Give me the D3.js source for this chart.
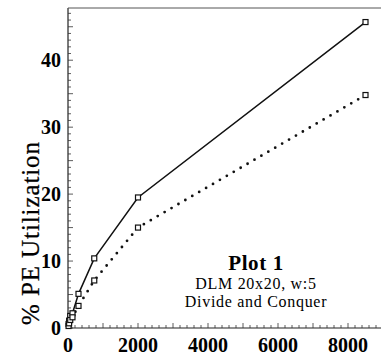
<!DOCTYPE html>
<html>
<head>
<meta charset="utf-8">
<script src="https://cdn.jsdelivr.net/npm/d3@7"></script>
<style>
  body { margin: 0; background: #fff; }
  svg { display: block; }
</style>
</head>
<body>
<div id="chart"></div>
<script>
// data
var sizes = [16, 32, 64, 128, 300, 750, 2000, 8500];
var solidUtil = [0.6, 1.1, 1.8, 2.2, 5.1, 10.4, 19.5, 45.7];
var dottedUtil = [0.3, 0.7, 1.2, 1.6, 3.3, 7.1, 15.0, 34.8];
var xTicks = [0, 2000, 4000, 6000, 8000];
var yTicks = [0, 10, 20, 30, 40];
var noteLines = ["Plot 1", "DLM 20x20, w:5", "Divide and Conquer"];

var W = 381, H = 356;
var svg = d3.select("#chart").append("svg")
    .attr("width", W)
    .attr("height", H);

var x = d3.scaleLinear().domain([0, 9000]).range([68, 383]);
var y = d3.scaleLinear().domain([0, 47.8]).range([328, 8]);

var serif = "'Liberation Serif', 'DejaVu Serif', serif";

// frame: left, bottom, top
svg.append("line").attr("x1", 68).attr("x2", 68).attr("y1", 8).attr("y2", 328)
  .attr("stroke", "#222").attr("stroke-width", 1.2);
svg.append("line").attr("x1", 68).attr("x2", 381).attr("y1", 328).attr("y2", 328)
  .attr("stroke", "#222").attr("stroke-width", 1.2);
svg.append("line").attr("x1", 68).attr("x2", 381).attr("y1", 8).attr("y2", 8)
  .attr("stroke", "#555").attr("stroke-width", 1);

// minor / major ticks pointing inward
var yMinor = d3.range(0, 48, 1);
svg.append("g").selectAll("line").data(yMinor).enter().append("line")
  .attr("x1", 68)
  .attr("x2", function(d) { return d % 5 === 0 ? 73 : 71; })
  .attr("y1", function(d) { return y(d); })
  .attr("y2", function(d) { return y(d); })
  .attr("stroke", "#333").attr("stroke-width", 0.8);

var xMinor = d3.range(0, 9000, 200);
svg.append("g").selectAll("line").data(xMinor).enter().append("line")
  .attr("x1", function(d) { return x(d); })
  .attr("x2", function(d) { return x(d); })
  .attr("y1", 328)
  .attr("y2", function(d) { return d % 1000 === 0 ? 323 : 325; })
  .attr("stroke", "#333").attr("stroke-width", 0.8);

// tick labels
svg.append("g").selectAll("text").data(yTicks).enter().append("text")
  .attr("x", 61)
  .attr("y", function(d) { return y(d) + 7; })
  .attr("text-anchor", "end")
  .style("font-family", serif)
  .style("font-weight", "bold")
  .style("font-size", "20px")
  .text(function(d) { return d; });

svg.append("g").selectAll("text").data(xTicks).enter().append("text")
  .attr("x", function(d) { return x(d); })
  .attr("y", 352)
  .attr("text-anchor", "middle")
  .style("font-family", serif)
  .style("font-weight", "bold")
  .style("font-size", "20px")
  .text(function(d) { return d; });

// y axis title
svg.append("text")
  .attr("transform", "translate(39,233) rotate(-90)")
  .attr("text-anchor", "middle")
  .style("font-family", serif)
  .style("font-size", "25px")
  .style("letter-spacing", "0.9px")
  .style("stroke", "#000")
  .style("stroke-width", "0.25px")
  .text("% PE Utilization");

// series
var solidPts = sizes.map(function(s, i) { return [s, solidUtil[i]]; });
var dottedPts = sizes.map(function(s, i) { return [s, dottedUtil[i]]; });
var line = d3.line()
  .x(function(d) { return x(d[0]); })
  .y(function(d) { return y(d[1]); });

svg.append("path").datum(solidPts)
  .attr("d", line)
  .attr("fill", "none")
  .attr("stroke", "#111")
  .attr("stroke-width", 1.5);

svg.append("path").datum(dottedPts)
  .attr("d", line)
  .attr("fill", "none")
  .attr("stroke", "#111")
  .attr("stroke-width", 2.8)
  .attr("stroke-linecap", "round")
  .attr("stroke-dasharray", "0 8");

// square markers
[solidPts, dottedPts].forEach(function(pts) {
  svg.append("g").selectAll("rect").data(pts).enter().append("rect")
    .attr("x", function(d) { return x(d[0]) - 2.5; })
    .attr("y", function(d) { return y(d[1]) - 2.5; })
    .attr("width", 5)
    .attr("height", 5)
    .attr("fill", "#fff")
    .attr("stroke", "#111")
    .attr("stroke-width", 1.2);
});

// annotation
svg.append("text")
  .attr("x", 256).attr("y", 270)
  .attr("text-anchor", "middle")
  .style("font-family", serif)
  .style("font-weight", "bold")
  .style("font-size", "21px")
  .style("letter-spacing", "0.6px")
  .text(noteLines[0]);
svg.append("text")
  .attr("x", 256).attr("y", 289)
  .attr("text-anchor", "middle")
  .style("font-family", serif)
  .style("font-size", "16px")
  .style("letter-spacing", "0.7px")
  .text(noteLines[1]);
svg.append("text")
  .attr("x", 256).attr("y", 307)
  .attr("text-anchor", "middle")
  .style("font-family", serif)
  .style("font-size", "16px")
  .style("letter-spacing", "0.7px")
  .text(noteLines[2]);
</script>
</body>
</html>
